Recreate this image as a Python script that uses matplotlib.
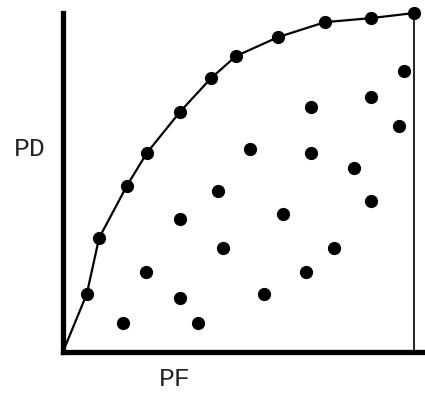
import matplotlib
matplotlib.use("Agg")
import matplotlib.pyplot as plt

# convex hull (upper curve) points, PF vs PD
hull_pf = [0.0, 0.068, 0.103, 0.182, 0.239, 0.333, 0.422, 0.493, 0.613, 0.746, 0.877, 1.0]
hull_pd = [0.0, 0.171, 0.336, 0.490, 0.587, 0.708, 0.808, 0.873, 0.929, 0.973, 0.985, 1.0]

# other learners (below the curve)
pts_pf = [0.171, 0.236, 0.333, 0.385, 0.333, 0.442, 0.456, 0.533, 0.573, 0.627,
          0.692, 0.707, 0.707, 0.772, 0.829, 0.877, 0.877, 0.957, 0.972]
pts_pd = [0.086, 0.236, 0.159, 0.086, 0.392, 0.475, 0.307, 0.599, 0.171, 0.407,
          0.236, 0.723, 0.587, 0.307, 0.543, 0.752, 0.445, 0.667, 0.829]

fig = plt.figure(figsize=(4.25, 3.95), dpi=100)
ax = fig.add_axes([0.148, 0.109, 0.852, 0.858])

ax.plot(hull_pf[1:], hull_pd[1:], 'o', color='black', markersize=8.5, clip_on=False, zorder=3)
ax.plot(hull_pf, hull_pd, '-', color='black', linewidth=1.6, clip_on=False)
ax.plot(pts_pf, pts_pd, 'o', color='black', markersize=8.5, linestyle='none', clip_on=False)
ax.axvline(1.0, ymin=0, ymax=1, color='black', linewidth=1.2)

ax.set_xlim(0, 1.031)
ax.set_ylim(0, 1.0)
for s in ['top', 'right']:
    ax.spines[s].set_visible(False)
for s in ['left', 'bottom']:
    ax.spines[s].set_linewidth(3.8)
ax.set_xticks([])
ax.set_yticks([])

fig.text(30 / 425, 1 - 149 / 395, 'PD', family='Liberation Mono', fontsize=19,
         ha='center', va='center', color='#222222')
fig.text(175 / 425, 1 - 379 / 395, 'PF', family='Liberation Mono', fontsize=19,
         ha='center', va='center', color='#222222')

fig.savefig('out.png', dpi=100)
